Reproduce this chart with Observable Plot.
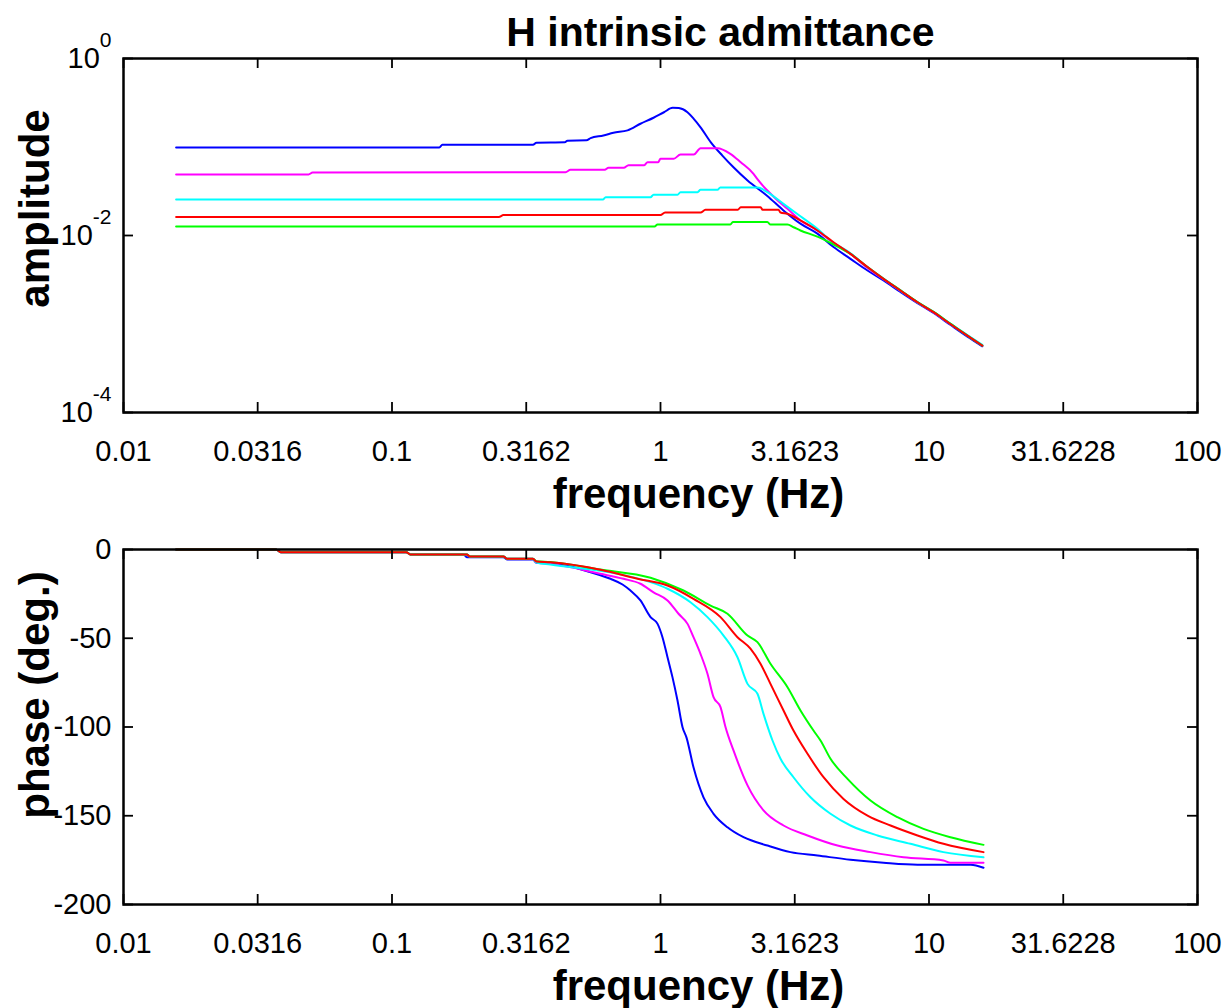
<!DOCTYPE html>
<html>
<head>
<meta charset="utf-8">
<script src="https://cdn.jsdelivr.net/npm/d3@7"></script>
<script src="https://cdn.jsdelivr.net/npm/@observablehq/plot@0.6"></script>
<style>
  body { margin: 0; background: white; }
  #chart { width: 1230px; height: 1008px; overflow: hidden; }
  #chart svg { display: block; }
</style>
</head>
<body>
<div id="chart"></div>
<script>
// ---- Text ----
const titleText = "H intrinsic admittance";
const xLabelText = "frequency (Hz)";
const ampLabelText = "amplitude";
const phaseLabelText = "phase (deg.)";

// ---- Ticks ----
const xTicks = [0.01, 0.0316, 0.1, 0.3162, 1, 3.1623, 10, 31.6228, 100];
const xTickLabels = ["0.01", "0.0316", "0.1", "0.3162", "1", "3.1623", "10", "31.6228", "100"];
const ampTicks = [1e-4, 1e-2, 1];
const ampTickLabels = ["10^-4", "10^-2", "10^0"];
const phaseTicks = [-200, -150, -100, -50, 0];
const phaseTickLabels = ["-200", "-150", "-100", "-50", "0"];

// ---- Series ----
const seriesNames = ["blue", "magenta", "cyan", "green", "red"];
const seriesColors = ["#0000ff", "#ff00ff", "#00ffff", "#00ff00", "#ff0000"];

// amplitude: [frequency Hz, amplitude]
const ampBlue = [[0.0157,0.0987],[0.15,0.0987],[0.154,0.106],[0.335,0.106],[0.345,0.112],[0.44,0.113],[0.45,0.118],[0.53,0.119],[0.549,0.126],[0.613,0.135],[0.668,0.145],[0.754,0.154],[0.842,0.183],[0.942,0.214],[1.03,0.247],[1.11,0.277],[1.17,0.275],[1.26,0.247],[1.33,0.208],[1.41,0.167],[1.54,0.113],[1.70,0.080],[1.87,0.059],[2.11,0.0418],[2.50,0.028],[2.87,0.0192],[3.32,0.0136],[3.84,0.0105],[4.41,0.0074],[5.10,0.00545],[5.90,0.00402],[6.77,0.0031],[7.83,0.0023],[9.06,0.00172],[10.4,0.00133],[12.0,0.00098],[13.9,0.00072],[15.8,0.00056]];
const ampMagenta = [[0.0157,0.0489],[0.0489,0.0489],[0.0506,0.0514],[0.443,0.0519],[0.462,0.0553],[0.62,0.0553],[0.64,0.0582],[0.73,0.0582],[0.76,0.0623],[0.87,0.0623],[0.895,0.0673],[0.98,0.0673],[1.0,0.0736],[1.12,0.0736],[1.187,0.0823],[1.33,0.0823],[1.41,0.0969],[1.63,0.0969],[1.82,0.0838],[1.99,0.0673],[2.22,0.0498],[2.30,0.043],[2.50,0.0322],[2.73,0.0249],[2.97,0.0200],[3.32,0.0148],[3.84,0.0114],[4.41,0.0082],[5.10,0.0062],[5.90,0.0043],[6.77,0.0032],[7.83,0.00237],[9.06,0.00175],[10.4,0.00135],[12.0,0.001],[13.9,0.00074],[15.8,0.00057]];
const ampCyan = [[0.0157,0.0255],[0.61,0.0255],[0.625,0.0271],[0.918,0.0271],[0.942,0.0288],[1.157,0.0288],[1.187,0.0309],[1.374,0.0309],[1.409,0.0328],[1.63,0.0328],[1.67,0.0349],[2.30,0.0349],[2.50,0.0309],[2.87,0.0228],[3.32,0.0165],[3.84,0.0119],[4.29,0.0088],[5.10,0.0063],[5.90,0.0044],[6.77,0.00326],[7.83,0.0024],[9.06,0.00177],[10.4,0.00137],[12.0,0.00101],[13.9,0.00075],[15.8,0.00058]];
const ampGreen = [[0.0157,0.01264],[0.95,0.01264],[0.975,0.0133],[1.82,0.0133],[1.86,0.0142],[2.50,0.0142],[2.57,0.0133],[2.97,0.0133],[3.13,0.0124],[3.32,0.0114],[3.84,0.0097],[4.41,0.0079],[5.10,0.0062],[5.90,0.0044],[6.77,0.00325],[7.83,0.0024],[9.06,0.00177],[10.4,0.00137],[12.0,0.00101],[13.9,0.00074],[15.8,0.00057]];
const ampRed = [[0.0157,0.0162],[0.25,0.0162],[0.26,0.0170],[1.0,0.0170],[1.04,0.0182],[1.41,0.0182],[1.47,0.0195],[1.94,0.0195],[1.99,0.0209],[2.36,0.0209],[2.40,0.0195],[2.75,0.0195],[2.80,0.0182],[2.97,0.0176],[3.32,0.0148],[3.84,0.0114],[4.41,0.0084],[5.10,0.0062],[5.90,0.0044],[6.77,0.00324],[7.83,0.00239],[9.06,0.00176],[10.4,0.00136],[12.0,0.001],[13.9,0.00074],[15.8,0.00057]];

// phase: [frequency Hz, degrees]
const phaseBlue = [[0.0157,0],[0.037,0],[0.0385,-1.5],[0.113,-1.5],[0.117,-2.8],[0.185,-2.8],[0.19,-4.3],[0.26,-4.3],[0.268,-5.6],[0.335,-5.6],[0.345,-7.5],[0.389,-7.7],[0.462,-9.6],[0.549,-12.8],[0.651,-16.5],[0.722,-19.7],[0.773,-23.1],[0.842,-28.7],[0.918,-38.1],[0.975,-41.9],[1.017,-49.4],[1.062,-60.7],[1.108,-71.9],[1.157,-85.1],[1.208,-100.1],[1.25,-106],[1.327,-122.7],[1.446,-139.6],[1.576,-148.9],[1.776,-156.5],[2.038,-162.1],[2.503,-166.8],[3.049,-170.5],[3.843,-172.4],[5.10,-174.8],[6.77,-176.5],[9.06,-177.6],[14.3,-177.6],[15.96,-179.3]];
const phaseMagenta = [[0.0157,0],[0.037,0],[0.0385,-1.5],[0.113,-1.5],[0.117,-2.8],[0.19,-2.8],[0.195,-3.9],[0.26,-3.9],[0.268,-5.2],[0.335,-5.2],[0.345,-7.4],[0.389,-8.1],[0.598,-13.7],[0.728,-16.5],[0.842,-19.3],[0.942,-24.1],[1.062,-28.7],[1.167,-36.2],[1.261,-41.9],[1.327,-49.4],[1.409,-58.8],[1.496,-70.0],[1.576,-83.2],[1.673,-88.8],[1.747,-100.1],[1.870,-113.2],[2.109,-132.9],[2.419,-147.0],[2.872,-155.5],[3.528,-161.1],[4.562,-166.8],[6.055,-170.5],[8.035,-173.4],[11.32,-175.2],[12.02,-176.5],[15.96,-176.5]];
const phaseCyan = [[0.0157,0],[0.037,0],[0.0385,-1.5],[0.113,-1.5],[0.117,-2.8],[0.19,-2.8],[0.195,-3.9],[0.26,-3.9],[0.268,-5.2],[0.335,-5.2],[0.345,-7.3],[0.389,-8.5],[0.692,-13.7],[0.918,-18.4],[1.062,-22.1],[1.293,-29.7],[1.496,-38.1],[1.717,-48.5],[1.935,-60.7],[2.109,-75.7],[2.297,-81.3],[2.419,-92.6],[2.613,-107.6],[2.799,-117.9],[3.128,-128.3],[3.62,-139.6],[4.297,-148.9],[5.101,-155.5],[6.431,-161.1],[8.534,-165.8],[11.32,-170.5],[15.96,-173.4]];
const phaseGreen = [[0.0157,0],[0.037,0],[0.0385,-1.5],[0.113,-1.5],[0.117,-2.8],[0.19,-2.8],[0.195,-3.9],[0.26,-3.9],[0.268,-5.2],[0.335,-5.2],[0.345,-6.6],[0.389,-7.0],[0.598,-11.3],[0.918,-15.9],[1.218,-23.1],[1.536,-31.6],[1.776,-36.2],[2.109,-48.5],[2.297,-52.2],[2.568,-64.4],[2.972,-77.6],[3.322,-90.7],[3.714,-102.0],[3.944,-107.6],[4.297,-117.9],[4.972,-129.2],[6.055,-141.4],[7.63,-150.8],[9.54,-157.4],[12.02,-162.1],[15.96,-166.4]];
const phaseRed = [[0.0157,0],[0.037,0],[0.0385,-1.5],[0.113,-1.5],[0.117,-2.8],[0.19,-2.8],[0.195,-3.9],[0.26,-3.9],[0.268,-5.2],[0.335,-5.2],[0.345,-6.8],[0.389,-7.2],[0.598,-11.4],[0.821,-16.5],[1.062,-20.3],[1.327,-27.8],[1.673,-38.1],[1.935,-49.4],[2.163,-55.9],[2.357,-64.4],[2.568,-75.7],[2.872,-90.7],[3.128,-102.0],[3.528,-115.1],[4.047,-128.3],[4.804,-140.5],[5.902,-149.9],[7.19,-155.5],[9.06,-161.1],[11.32,-165.8],[15.96,-170.5]];

const ampSeries = [ampBlue, ampMagenta, ampCyan, ampGreen, ampRed];
const phaseSeries = [phaseBlue, phaseMagenta, phaseCyan, phaseGreen, phaseRed];

// ---- Layout ----
const W = 1230;
const font = "'Liberation Sans', Arial, Helvetica, sans-serif";
const tickLen = 10;

function panel({height, marginTop, marginBottom, yScale, yTicks, yTickLabels, series, yLabel, yLabelDy, title}) {
  const mL = 123, mR = 33;
  const frameW = W - mL - mR;
  const frameH = height - marginTop - marginBottom;
  const marks = [];
  series.forEach((arr, i) => {
    const rows = arr.map(([f, v]) => ({f, v, s: seriesNames[i]}));
    marks.push(Plot.line(rows, {x: "f", y: "v", stroke: seriesColors[i], strokeWidth: 2, curve: "monotone-x"}));
  });
  // inward ticks on all four sides
  marks.push(Plot.ruleX(xTicks, {stroke: "black", strokeWidth: 1.8, insetTop: frameH - tickLen}));
  marks.push(Plot.ruleX(xTicks, {stroke: "black", strokeWidth: 1.8, insetBottom: frameH - tickLen}));
  marks.push(Plot.ruleY(yTicks, {stroke: "black", strokeWidth: 1.8, insetRight: frameW - tickLen}));
  marks.push(Plot.ruleY(yTicks, {stroke: "black", strokeWidth: 1.8, insetLeft: frameW - tickLen}));
  marks.push(Plot.frame({stroke: "black", strokeWidth: 2.5}));
  // tick labels
  marks.push(Plot.text(xTicks, {x: d => d, text: (d, i) => xTickLabels[i], frameAnchor: "bottom",
    dy: 28, lineAnchor: "top", textAnchor: "middle", fontSize: 29, fill: "black"}));
  marks.push(Plot.text(yTicks, {y: d => d, text: (d, i) => yTickLabels[i], frameAnchor: "left",
    dx: -12, lineAnchor: "middle", textAnchor: "end", fontSize: 29, fill: "black"}));
  // axis labels
  marks.push(Plot.text([xLabelText], {frameAnchor: "bottom", dx: 38, dy: 95, lineAnchor: "bottom",
    fontSize: 42, fontWeight: "bold", fill: "black"}));
  marks.push(Plot.text([yLabel], {frameAnchor: "left", rotate: -90, dx: -75, dy: yLabelDy, lineAnchor: "bottom",
    textAnchor: "middle", fontSize: 42, fontWeight: "bold", fill: "black"}));
  if (title) {
    marks.push(Plot.text([title], {frameAnchor: "top", dx: 60, dy: -13, lineAnchor: "bottom",
      fontSize: 41, fontWeight: "bold", fill: "black"}));
  }
  return Plot.plot({
    width: W, height, marginLeft: mL, marginRight: mR, marginTop, marginBottom,
    style: {fontFamily: font, fontSize: "29px", color: "black", background: "white", overflow: "visible"},
    x: {type: "log", domain: [0.01, 100], axis: null},
    y: {...yScale, axis: null},
    marks
  });
}

const ampPlot = panel({
  height: 520, marginTop: 58, marginBottom: 108,
  yScale: {type: "log", domain: [1e-4, 1]},
  yTicks: ampTicks, yTickLabels: ampTickLabels,
  series: ampSeries, yLabel: ampLabelText, yLabelDy: -27, title: titleText
});
const phasePlot = panel({
  height: 488, marginTop: 29, marginBottom: 104,
  yScale: {type: "linear", domain: [-200, 0]},
  yTicks: phaseTicks, yTickLabels: phaseTickLabels,
  series: phaseSeries, yLabel: phaseLabelText, yLabelDy: -32, title: null
});

// superscript exponents for the log tick labels
d3.select(ampPlot).selectAll("text").each(function() {
  const t = this.textContent;
  const m = /^10\^(-?\d+)$/.exec(t);
  if (m) {
    const sel = d3.select(this);
    sel.text(null);
    sel.append("tspan").text("10");
    sel.append("tspan").attr("dy", -21).attr("font-size", 21).text(m[1]);
  }
});

const chart = document.getElementById("chart");
chart.appendChild(ampPlot);
chart.appendChild(phasePlot);
</script>
</body>
</html>
